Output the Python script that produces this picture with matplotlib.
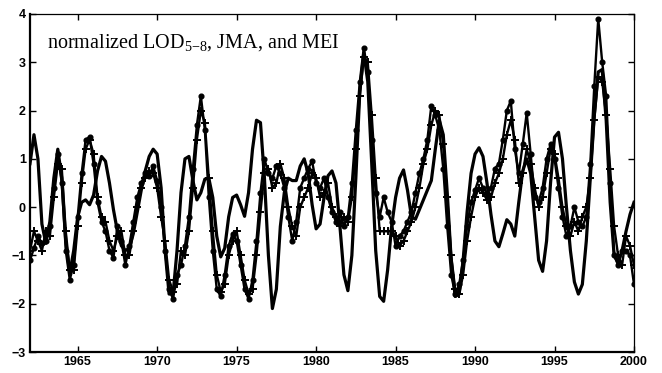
import numpy as np
import matplotlib
matplotlib.use("Agg")
import matplotlib.pyplot as plt

# normalized LOD (5-8 band), quarterly from 1962.0 to 2000.0
lod = [
    0.90, 1.50, 1.00, -0.35,      # 1962
    -0.75, -0.30, 0.60, 1.20,     # 1963
    0.60, -0.70, -1.37, -0.90,    # 1964
    -0.20, 0.10, 0.15, 0.05,      # 1965
    0.25, 0.75, 1.05, 0.95,       # 1966
    0.50, -0.05, -0.50, -0.80,    # 1967
    -0.90, -0.85, -0.55, -0.10,   # 1968
    0.35, 0.75, 1.05, 1.20,       # 1969
    1.10, 0.40, -0.90, -1.80,     # 1970
    -1.80, -0.90, 0.30, 1.00,     # 1971
    1.05, 0.55, 0.15, 0.30,       # 1972
    0.58, 0.60, 0.20, -0.60,      # 1973
    -1.03, -0.85, -0.20, 0.20,    # 1974
    0.25, 0.05, -0.19, 0.30,      # 1975
    1.20, 1.80, 1.75, 0.60,       # 1976
    -1.00, -2.10, -1.70, -0.40,   # 1977
    0.30, 0.60, 0.55, 0.55,       # 1978
    0.85, 1.00, 0.70, 0.05,       # 1979
    -0.45, -0.35, 0.20, 0.65,     # 1980
    0.75, 0.50, -0.40, -1.40,     # 1981
    -1.73, -1.00, 0.60, 2.40,     # 1982
    3.20, 2.60, 0.90, -0.90,      # 1983
    -1.85, -1.95, -1.30, -0.40,   # 1984
    0.20, 0.60, 0.77, 0.35,       # 1985
    -0.20, -0.25, -0.05, 0.15,    # 1986
    0.35, 0.55, 1.20, 1.80,       # 1987
    1.50, 0.30, -1.10, -1.85,     # 1988
    -1.80, -1.10, -0.10, 0.70,    # 1989
    1.10, 1.23, 1.05, 0.50,       # 1990
    -0.15, -0.70, -0.82, -0.55,   # 1991
    -0.26, -0.35, -0.60, 0.10,    # 1992
    0.75, 1.00, 0.70, -0.20,      # 1993
    -1.10, -1.33, -0.70, 0.50,    # 1994
    1.45, 1.55, 1.00, 0.00,       # 1995
    -0.90, -1.55, -1.80, -1.60,   # 1996
    -0.70, 0.60, 1.90, 2.80,      # 1997
    2.85, 1.80, 0.10, -1.00,      # 1998
    -1.15, -0.90, -0.50, -0.15,   # 1999
    0.10,                         # 2000
]

# MEI, quarterly
mei = [
    -1.10, -0.85, -0.60, -0.75,
    -0.70, -0.40, 0.40, 1.10,
    0.50, -0.90, -1.50, -1.20,
    -0.20, 0.70, 1.40, 1.45,
    0.90, 0.10, -0.30, -0.50,
    -0.90, -1.05, -0.40, -0.70,
    -1.20, -0.80, -0.30, 0.20,
    0.50, 0.70, 0.65, 0.85,
    0.55, 0.00, -0.90, -1.70,
    -1.90, -1.40, -1.20, -0.80,
    -0.20, 0.80, 1.70, 2.30,
    1.60, 0.20, -0.90, -1.70,
    -1.85, -1.40, -0.80, -0.55,
    -0.70, -1.20, -1.70, -1.90,
    -1.50, -0.70, 0.30, 1.00,
    0.70, 0.60, 0.85, 0.70,
    0.40, -0.20, -0.70, -0.30,
    0.40, 0.60, 0.80, 0.95,
    0.50, 0.40, 0.60, 0.20,
    -0.10, -0.30, -0.10, -0.40,
    -0.20, 0.50, 1.60, 2.60,
    3.30, 2.80, 1.40, 0.30,
    -0.20, 0.20, -0.10, -0.30,
    -0.80, -0.60, -0.50, -0.30,
    -0.10, 0.30, 0.70, 1.00,
    1.40, 2.10, 1.90, 1.60,
    0.80, -0.40, -1.40, -1.80,
    -1.60, -1.10, -0.40, 0.10,
    0.35, 0.60, 0.40, 0.30,
    0.40, 0.80, 0.90, 1.40,
    2.00, 2.20, 1.20, 0.70,
    1.30, 1.95, 1.10, 0.20,
    0.10, 0.40, 1.00, 1.30,
    1.00, 0.40, -0.20, -0.60,
    -0.40, 0.00, -0.30, -0.40,
    -0.20, 0.90, 2.50, 3.90,
    3.00, 2.30, 0.50, -1.00,
    -1.20, -0.90, -0.90, -1.00,
    -1.60,
]

# JMA index, quarterly
jma = [
    -0.90, -0.50, -0.70, -0.90,
    -0.50, -0.60, 0.20, 0.90,
    0.80, -0.50, -1.30, -1.30,
    -0.40, 0.50, 1.20, 1.40,
    1.10, 0.20, -0.20, -0.30,
    -0.70, -0.90, -0.60, -0.50,
    -1.00, -1.00, -0.50, 0.00,
    0.40, 0.60, 0.75, 0.70,
    0.40, -0.20, -0.70, -1.50,
    -1.75, -1.60, -0.90, -1.00,
    -0.50, 0.40, 1.40, 2.00,
    1.75, 0.60, -0.50, -1.40,
    -1.75, -1.60, -1.00, -0.70,
    -0.50, -1.00, -1.50, -1.80,
    -1.70, -1.00, -0.10, 0.70,
    0.80, 0.40, 0.50, 0.90,
    0.60, 0.00, -0.40, -0.60,
    0.00, 0.20, 0.40, 0.70,
    0.60, 0.20, 0.30, 0.50,
    0.00, -0.20, -0.40, -0.20,
    -0.30, 0.20, 1.20, 2.30,
    3.10, 3.00, 1.90, 0.60,
    -0.50, -0.50, -0.50, -0.50,
    -0.60, -0.80, -0.70, -0.50,
    -0.30, 0.00, 0.40, 0.90,
    1.20, 1.70, 2.00, 1.90,
    1.30, 0.20, -1.00, -1.70,
    -1.80, -1.40, -0.70, -0.20,
    0.20, 0.40, 0.30, 0.15,
    0.20, 0.50, 0.70, 1.00,
    1.50, 1.80, 1.40, 0.50,
    0.70, 1.20, 0.90, 0.40,
    0.00, 0.20, 0.70, 1.20,
    1.10, 0.60, 0.00, -0.40,
    -0.60, -0.30, -0.50, -0.20,
    0.00, 0.60, 1.80, 2.70,
    2.60, 1.90, 0.80, -0.40,
    -1.00, -1.20, -0.60, -0.80,
    -1.20,
]

years = 1962 + np.arange(len(lod)) / 4.0

plt.rcParams["font.family"] = ["Liberation Sans", "DejaVu Sans"]
plt.rcParams["mathtext.fontset"] = "custom"
plt.rcParams["mathtext.rm"] = "Liberation Serif"

fig = plt.figure(figsize=(6.62, 3.73), dpi=100)
ax = fig.add_axes([0.0453, 0.0563, 0.9124, 0.9062])

ax.plot(years, lod, color="black", lw=2.3, zorder=3)
ax.plot(years, mei, color="black", lw=1.7, marker="o", ms=3.4, zorder=4)
ax.plot(years, jma, color="black", lw=1.7, marker="+", ms=6, mew=1.4, zorder=4)

ax.set_xlim(1962, 2000)
ax.set_ylim(-3, 4)
ax.set_xticks(np.arange(1965, 2001, 5))
ax.set_yticks(np.arange(-3, 5, 1))

ax.tick_params(direction="in", top=True, right=True, length=4, width=1.0,
               labelsize=9, pad=3)
for lab in ax.get_xticklabels() + ax.get_yticklabels():
    lab.set_fontweight("bold")

for side in ["left", "bottom"]:
    ax.spines[side].set_linewidth(1.6)
for side in ["top", "right"]:
    ax.spines[side].set_linewidth(0.9)

ax.text(0.028, 0.90, r"normalized LOD$_{\mathrm{5{-}8}}$, JMA, and MEI",
        transform=ax.transAxes, family="Liberation Serif", fontsize=14.5,
        ha="left", va="baseline")

fig.savefig("out.png", dpi=100)
